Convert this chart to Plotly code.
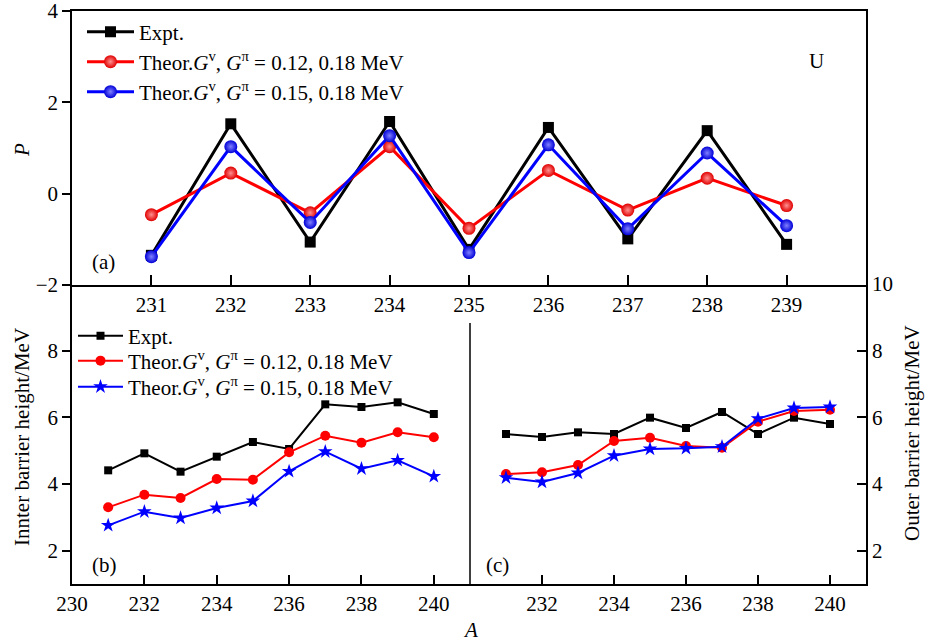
import plotly.graph_objects as go

# ---------------- data ----------------
A_top = [231, 232, 233, 234, 235, 236, 237, 238, 239]
P_expt = [-1.35, 1.53, -1.06, 1.58, -1.22, 1.45, -0.99, 1.38, -1.11]
P_g012 = [-0.46, 0.45, -0.42, 1.03, -0.76, 0.51, -0.36, 0.34, -0.26]
P_g015 = [-1.38, 1.03, -0.63, 1.27, -1.29, 1.07, -0.77, 0.89, -0.70]

A_bot = [231, 232, 233, 234, 235, 236, 237, 238, 239, 240]
inner_expt = [4.41, 4.92, 4.37, 4.82, 5.26, 5.05, 6.39, 6.31, 6.45, 6.10]
inner_g012 = [3.30, 3.68, 3.58, 4.15, 4.13, 4.95, 5.45, 5.24, 5.55, 5.40]
inner_g015 = [2.76, 3.17, 2.98, 3.28, 3.49, 4.38, 4.97, 4.46, 4.71, 4.23]
outer_expt = [5.50, 5.41, 5.55, 5.50, 5.99, 5.68, 6.16, 5.50, 5.99, 5.80]
outer_g012 = [4.30, 4.35, 4.57, 5.29, 5.39, 5.14, 5.09, 5.87, 6.19, 6.23]
outer_g015 = [4.19, 4.06, 4.33, 4.85, 5.05, 5.07, 5.12, 5.96, 6.28, 6.31]

name_expt = "Expt."
name_g012 = "Theor.<i>G</i><sup>v</sup>, <i>G</i><sup>π</sup> = 0.12, 0.18 MeV"
name_g015 = "Theor.<i>G</i><sup>v</sup>, <i>G</i><sup>π</sup> = 0.15, 0.18 MeV"

W, H = 926, 643
FONT = "Liberation Serif, Times New Roman, serif"
FS = 21
def px(x): return x / W
def py(y): return 1 - y / H

fig = go.Figure()

# ---- panel (a) ----
fig.add_trace(go.Scatter(x=A_top, y=P_expt, name=name_expt, mode="lines+markers",
    line=dict(color="black", width=3), marker=dict(symbol="square", size=11, color="black"),
    xaxis="x", yaxis="y", legend="legend"))
fig.add_trace(go.Scatter(x=A_top, y=P_g012, name=name_g012, mode="lines+markers",
    line=dict(color="#ff0000", width=3),
    marker=dict(symbol="circle", size=13, color="#e00000", gradient=dict(type="radial", color="#ff9090")),
    xaxis="x", yaxis="y", legend="legend2"))
fig.add_trace(go.Scatter(x=A_top, y=P_g015, name=name_g015, mode="lines+markers",
    line=dict(color="#0000ff", width=3),
    marker=dict(symbol="circle", size=13, color="#0000d8", gradient=dict(type="radial", color="#8080ff")),
    xaxis="x", yaxis="y", legend="legend3"))

# ---- panel (b) ----
fig.add_trace(go.Scatter(x=A_bot, y=inner_expt, name=name_expt, mode="lines+markers",
    line=dict(color="black", width=2), marker=dict(symbol="square", size=8, color="black"),
    xaxis="x2", yaxis="y2", legend="legend4"))
fig.add_trace(go.Scatter(x=A_bot, y=inner_g012, name=name_g012, mode="lines+markers",
    line=dict(color="#ff0000", width=2), marker=dict(symbol="circle", size=10, color="#ff0000"),
    xaxis="x2", yaxis="y2", legend="legend5"))
fig.add_trace(go.Scatter(x=A_bot, y=inner_g015, name=name_g015, mode="lines+markers",
    line=dict(color="#0000ff", width=2), marker=dict(symbol="star", size=11, color="#0000ff"),
    xaxis="x2", yaxis="y2", legend="legend6"))

# ---- panel (c) ----
fig.add_trace(go.Scatter(x=A_bot, y=outer_expt, showlegend=False, mode="lines+markers",
    line=dict(color="black", width=2), marker=dict(symbol="square", size=8, color="black"),
    xaxis="x3", yaxis="y3"))
fig.add_trace(go.Scatter(x=A_bot, y=outer_g012, showlegend=False, mode="lines+markers",
    line=dict(color="#ff0000", width=2), marker=dict(symbol="circle", size=10, color="#ff0000"),
    xaxis="x3", yaxis="y3"))
fig.add_trace(go.Scatter(x=A_bot, y=outer_g015, showlegend=False, mode="lines+markers",
    line=dict(color="#0000ff", width=2), marker=dict(symbol="star", size=11, color="#0000ff"),
    xaxis="x3", yaxis="y3"))

axcommon = dict(showgrid=False, zeroline=False, showline=True, linecolor="black", linewidth=1.5,
                tickcolor="black", tickwidth=1.5, automargin=False, ticklabeloverflow="allow",
                tickfont=dict(family=FONT, size=FS, color="black"))

x_full = [px(72), px(866)]
x_b = [px(72), px(470)]
x_c = [px(470), px(866)]
y_top = [py(285), py(11)]
y_bot = [py(584), py(284)]

def leg(xp, yp, iw):
    return dict(x=px(xp), y=py(yp), xanchor="left", yanchor="middle", bgcolor="rgba(0,0,0,0)",
                font=dict(family=FONT, size=FS, color="black"), itemwidth=iw, borderwidth=0)

def ann(text, xp, yp, angle=0):
    return dict(text=text, x=px(xp), y=py(yp), xref="paper", yref="paper", showarrow=False,
                xanchor="center", yanchor="middle", textangle=angle,
                font=dict(family=FONT, size=FS, color="black"))

fig.update_layout(
    template="none",
    width=W, height=H, margin=dict(l=0, r=0, t=0, b=0, pad=0),
    paper_bgcolor="white", plot_bgcolor="rgba(0,0,0,0)",
    font=dict(family=FONT, size=FS, color="black"),
    xaxis=dict(domain=x_full, range=[230, 240], tickvals=A_top, ticks="inside", ticklen=10,
               mirror=True, anchor="y", **axcommon),
    yaxis=dict(domain=y_top, range=[-2, 4], tickvals=[-2, 0, 2, 4], ticks="outside", ticklen=8,
               mirror=True, anchor="x", **axcommon),
    xaxis2=dict(domain=x_b, range=[230, 241], tickvals=[230, 232, 234, 236, 238, 240], ticks="inside",
                ticklen=9, anchor="y2", **axcommon),
    yaxis2=dict(domain=y_bot, range=[1, 10], tickvals=[2, 4, 6, 8], ticks="outside", ticklen=8,
                anchor="x2", **axcommon),
    xaxis3=dict(domain=x_c, range=[230, 241], tickvals=[232, 234, 236, 238, 240], ticks="inside",
                ticklen=9, anchor="y3", **axcommon),
    yaxis3=dict(domain=y_bot, range=[1, 10], tickvals=[2, 4, 6, 8, 10], ticks="inside", ticklen=9,
                side="right", anchor="x3", **axcommon),
    legend=leg(82, 32, 47),
    legend2=leg(82, 62, 47),
    legend3=leg(82, 92, 47),
    legend4=leg(73, 336, 45),
    legend5=leg(73, 361, 45),
    legend6=leg(73, 387, 45),
    shapes=[dict(type="line", xref="paper", yref="paper", x0=px(470), x1=px(470),
                 y0=py(584), y1=py(323), line=dict(color="black", width=1.5))],
    annotations=[
        ann("<i>P</i>", 22, 150, -90),
        ann("Innter barrier height/MeV", 22, 437, -90),
        ann("Outer barrier height/MeV", 912, 433, -90),
        ann("<i>A</i>", 470, 630),
        ann("U", 816, 61),
        ann("(a)", 103, 262),
        ann("(b)", 104, 565),
        ann("(c)", 498, 565),
    ],
)

fig.write_html("out.html")
